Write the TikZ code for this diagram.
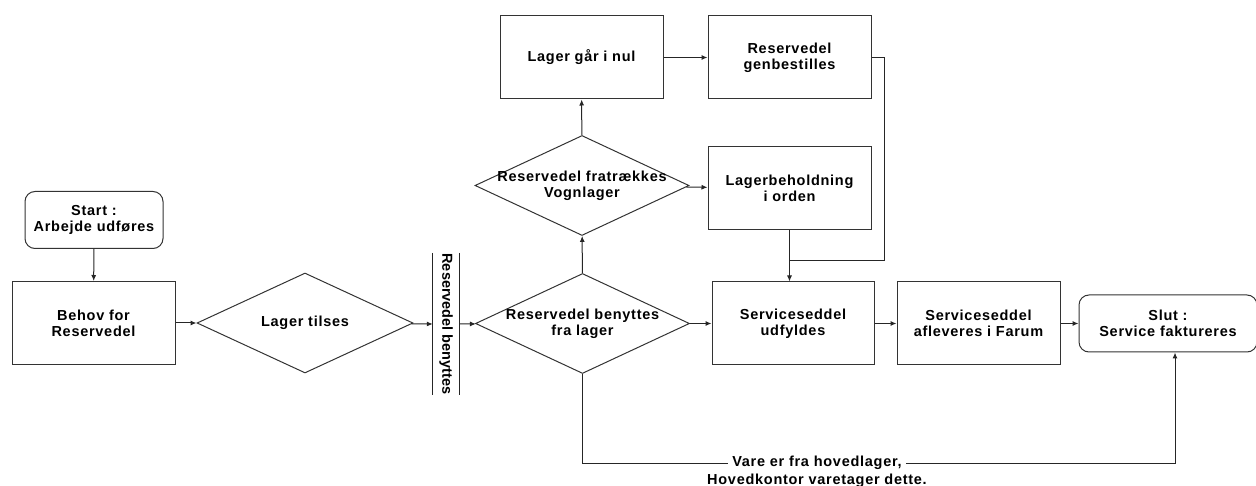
\documentclass[tikz,border=0pt]{standalone}
\usepackage{fontspec}
\setmainfont{Liberation Sans}[LetterSpace=5]
\newfontfamily\plainfont{Liberation Sans}
\usetikzlibrary{positioning,shapes.geometric,arrows.meta}

\begin{document}
\begin{tikzpicture}[
  x=1pt, y=-1pt,
  font=\bfseries\fontsize{14.5}{16}\selectfont,
  every node/.style={inner sep=0pt, align=center},
  box/.style={draw=black!80, line width=1pt, minimum width=163pt,
              minimum height=83pt},
  term/.style={box, rounded corners=10pt, minimum height=57pt},
  dec/.style={draw=black!80, line width=1pt, diamond, shape aspect=2.1,
              inner xsep=-12pt, minimum width=214pt, minimum height=100pt},
  flow/.style={draw=black!85, line width=1pt, -{Latex[length=6pt,width=5pt]}},
  link/.style={draw=black!85, line width=1pt}
]
\useasboundingbox (0,0) rectangle (1256,486);
\node[term, minimum width=138pt] (start) at (94,220) {Start :\\Arbejde udføres};
\node[box] (behov) at (93.5,323) {Behov for\\Reservedel};
\node[dec, minimum width=216pt] (tilses) at (305,323) {Lager tilses};
\node[minimum width=142pt, minimum height=26pt, rotate=-90,
      font=\plainfont\bfseries\fontsize{14.5}{16}\selectfont] (bar) at (446,324) {Reservedel benyttes};
\node[dec] (lager) at (582.5,323.5) {Reservedel benyttes\\fra lager};
\node[dec] (fratraek) at (582,185.5) {Reservedel fratrækkes\\Vognlager};
\node[box] (nul) at (581.5,57.5) {Lager går i nul};
\node[box, right=44pt of nul] (genbest) {Reservedel\\genbestilles};
\node[box, below=47pt of genbest] (orden) {Lagerbeholdning\\i orden};
\node[box, minimum width=162pt] (udfyld) at (793,323.5) {Serviceseddel\\udfyldes};
\node[box, right=22pt of udfyld] (afleve) {Serviceseddel\\afleveres i Farum};
\node[term, minimum width=178pt, right=18pt of afleve] (slut) {Slut :\\Service faktureres};
\node[inner xsep=4pt] (vare) at (817,463) {Vare er fra hovedlager,};
\node[below=4pt of vare] (hoved) {Hovedkontor varetager dette.};

\draw[link] (bar.north west) -- (bar.north east);
\draw[link] (bar.south west) -- (bar.south east);

\draw[flow] (start) -- (behov);
\draw[flow] (behov) -- (tilses);
\draw[flow] (tilses) -- (bar.south);
\draw[flow] (bar.north) -- (lager);
\draw[flow] (lager) -- (fratraek);
\draw[flow] (fratraek) -- (nul);
\draw[flow] (nul) -- (genbest);
\draw[flow] (fratraek) -- (orden);
\draw[flow] (lager) -- (udfyld);
\draw[flow] (udfyld) -- (afleve);
\draw[flow] (afleve) -- (slut);
\path (orden.south) ++(0,30) coordinate (join);
\draw[flow] (orden.south) -- (orden.south |- udfyld.north);
\draw[link] (genbest.east) -- ++(13,0) |- (join);
\draw[link] (lager.south) |- (vare.west);
\draw[flow] (vare.east) -| ([xshift=7pt]slut.south);
\end{tikzpicture}
\end{document}
